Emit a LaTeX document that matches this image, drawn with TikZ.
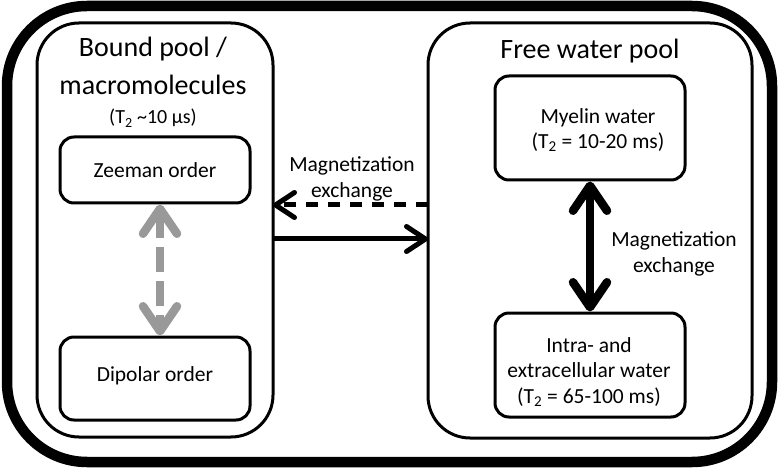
\documentclass[tikz,border=0pt]{standalone}
\usepackage{fontspec}
\setmainfont{Carlito}
\usetikzlibrary{arrows.meta,calc}
\definecolor{arrowgray}{RGB}{153,153,153}
\begin{document}
\begin{tikzpicture}[x=1pt,y=-1pt,
  frame/.style={draw, line width=10.5pt, rounded corners=80pt, inner sep=0pt, outer sep=0pt},
  pool/.style={draw, line width=3pt, rounded corners=42pt, inner sep=0pt, outer sep=0pt},
  inbox/.style={draw, line width=3pt, rounded corners=14pt, inner sep=0pt, outer sep=1.5pt, minimum width=190pt},
  lbl/.style={font=\fontsize{21.5}{25.8}\selectfont, align=center, inner sep=0pt},
  title/.style={font=\fontsize{28}{38}\selectfont, align=center, inner sep=0pt},
  harrow/.style={line width=5pt, -{Straight Barb[length=19pt, width=25pt, round]}},
  varrow/.style={line width=8.5pt, {Straight Barb[length=25pt, width=34pt, round]}-{Straight Barb[length=25pt, width=34pt, round]}},
]
\useasboundingbox (0,0) rectangle (780,468);
\node[frame, minimum width=765pt, minimum height=456pt] (frame) at (389.5,234) {};
\node[pool, minimum width=236pt, minimum height=414pt] (bound) at (155,230) {};
\node[pool, minimum width=324pt, minimum height=415pt] (free) at (590,230.5) {};

\node[title, anchor=base] (boundtitle) at (153,95) {Bound pool /\\macromolecules};
\node[lbl, font=\fontsize{20}{24}\selectfont, anchor=base] (boundt2) at (153,124) {(T\textsubscript{2} \textasciitilde10 µs)};
\node[title, anchor=base] (freetitle) at (590,59) {Free water pool};

\node[inbox, minimum height=66pt] (zeeman) at (155,170) {};
\node[lbl] (zeemantxt) at (155,170) {Zeeman order};
\node[inbox, minimum height=83pt] (dipolar) at (155,378.5) {};
\node[lbl] (dipolartxt) at (155,376) {Dipolar order};

\node[inbox, minimum height=104pt] (myelin) at (590,128) {};
\node[lbl] (myelintxt) at (598,130) {Myelin water\\(T\textsubscript{2} = 10-20 ms)};
\node[inbox, minimum height=104pt] (intra) at (590,365) {};
\node[lbl] (intratxt) at (589,372) {Intra- and\\extracellular water\\(T\textsubscript{2} = 65-100 ms)};

\node[lbl] (midlbl) at (352,179) {Magnetization\\exchange};
\node[lbl] (rightlbl) at (674,254) {Magnetization\\exchange};

\coordinate (ydash) at (0,205);
\coordinate (ysolid) at (0,239);
\draw[harrow, dash pattern=on 12pt off 10pt] (free.west |- ydash) -- (bound.east |- ydash);
\draw[harrow] (bound.east |- ysolid) -- (free.west |- ysolid);

\draw[varrow, arrowgray, dash pattern=on 25pt off 9pt] ([xshift=5pt]zeeman.south) -- ([xshift=5pt]dipolar.north);
\draw[varrow] (myelin.south) -- (intra.north);
\end{tikzpicture}
\end{document}
